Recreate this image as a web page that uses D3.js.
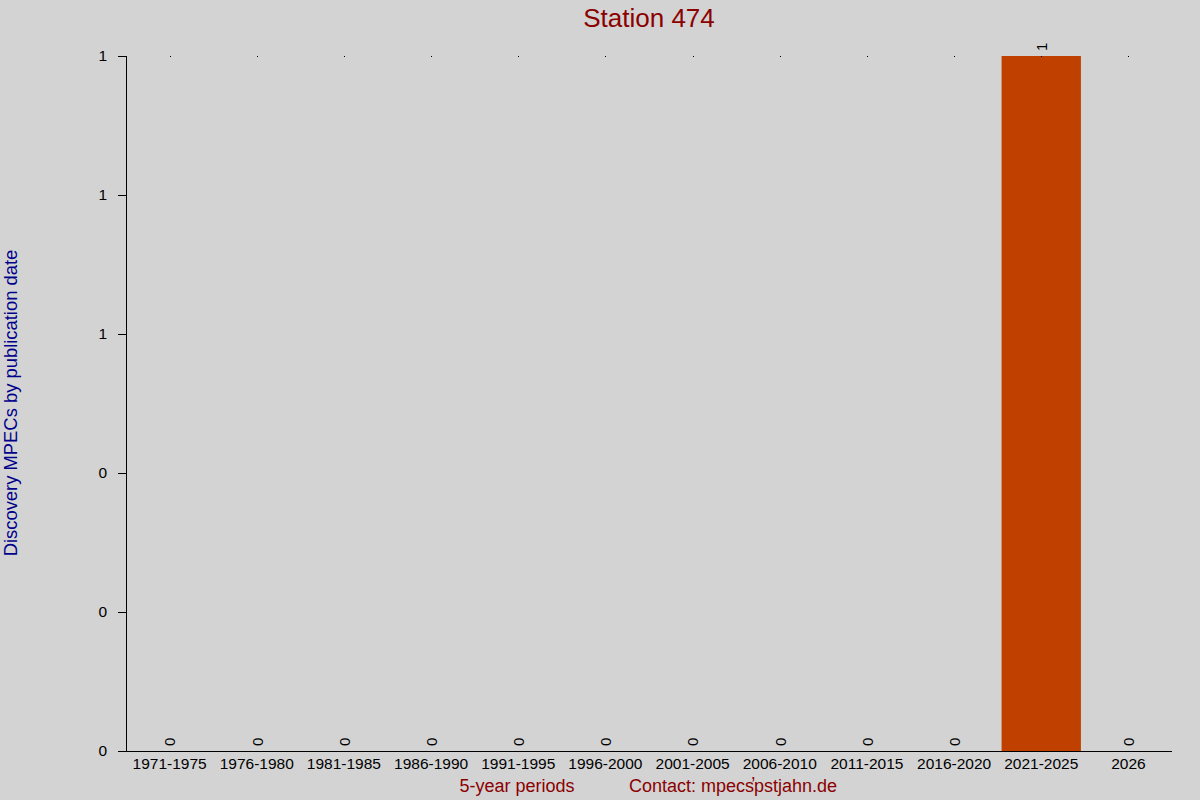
<!DOCTYPE html>
<html><head><meta charset="utf-8">
<script src="https://cdn.jsdelivr.net/npm/d3@7"></script>
<style>
html,body{margin:0;padding:0;background:#d3d3d3;}
svg{display:block;font-family:"Liberation Sans",Arial,sans-serif;}
</style></head><body>
<script>
const categories = ["1971-1975","1976-1980","1981-1985","1986-1990","1991-1995","1996-2000","2001-2005","2006-2010","2011-2015","2016-2020","2021-2025","2026"];
const values = [0,0,0,0,0,0,0,0,0,0,1,0];
const yTicks = [0,0.2,0.4,0.6,0.8,1];
const title = "Station 474";
const yLabel = "Discovery MPECs by publication date";
const xLabel = "5-year periods";
const contact = "Contact: mpecs\u0315pstjahn.de";

const W=1200,H=800;
const m={l:126,r:28,t:56,b:49};
const svg=d3.select("body").append("svg").attr("width",W).attr("height",H);
svg.append("rect").attr("width",W).attr("height",H).attr("fill","#d3d3d3");

const x=d3.scaleBand().domain(categories).range([m.l,W-m.r]).paddingInner(0.09).paddingOuter(0.045);
const y=d3.scaleLinear().domain([0,1]).range([H-m.b,m.t]);

// bars
svg.selectAll("rect.bar").data(values).join("rect").attr("class","bar")
  .attr("x",(d,i)=>x(categories[i])).attr("width",x.bandwidth())
  .attr("y",d=>y(d)).attr("height",d=>y(0)-y(d)).attr("fill","#c04000");

// small dots at top
svg.selectAll("rect.dot").data(categories).join("rect").attr("class","dot")
  .attr("x",d=>Math.round(x(d)+x.bandwidth()/2)).attr("y",y(1)).attr("width",1).attr("height",1).attr("fill","#000");

// value labels rotated
svg.selectAll("text.val").data(values).join("text").attr("class","val")
  .attr("transform",(d,i)=>`translate(${x(categories[i])+x.bandwidth()/2+0.5},${y(d)-5}) rotate(-90)`)
  .attr("dy","0.36em").attr("text-anchor","start").attr("font-size",15).attr("fill","#000")
  .text(d=>d);

// y axis
const ya=svg.append("g").attr("transform",`translate(${m.l},0)`)
  .call(d3.axisLeft(y).tickValues(yTicks).tickFormat(d=>d3.format(".0f")(d)).tickSize(8).tickPadding(11));
ya.select(".domain").attr("d",`M0.5,${y(1)}V${y(0)+0.5}`).attr("stroke","#000");
ya.selectAll("text").attr("font-size",15.5).attr("fill","#000").attr("font-family","Liberation Sans, Arial, sans-serif");

// x axis
const xa=svg.append("g").attr("transform",`translate(0,${y(0)})`)
  .call(d3.axisBottom(x).tickSize(0).tickPadding(7));
xa.select(".domain").attr("d",`M${m.l-8},0.5H${W-m.r}`).attr("stroke","#000");
xa.selectAll("text").attr("font-size",15.5).attr("fill","#000").attr("font-family","Liberation Sans, Arial, sans-serif");

// title
svg.append("text").attr("x",649).attr("y",27).attr("text-anchor","middle")
  .attr("font-size",26).attr("fill","#8b0000").text(title);
// y label
svg.append("text").attr("transform","translate(17,403) rotate(-90)").attr("text-anchor","middle")
  .attr("font-size",18.4).attr("fill","#00008b").text(yLabel);
// x labels
svg.append("text").attr("x",517).attr("y",792).attr("text-anchor","middle")
  .attr("font-size",18).attr("fill","#8b0000").text(xLabel);
svg.append("text").attr("x",733).attr("y",792).attr("text-anchor","middle")
  .attr("font-size",18).attr("fill","#8b0000").text(contact);
</script>
</body></html>
